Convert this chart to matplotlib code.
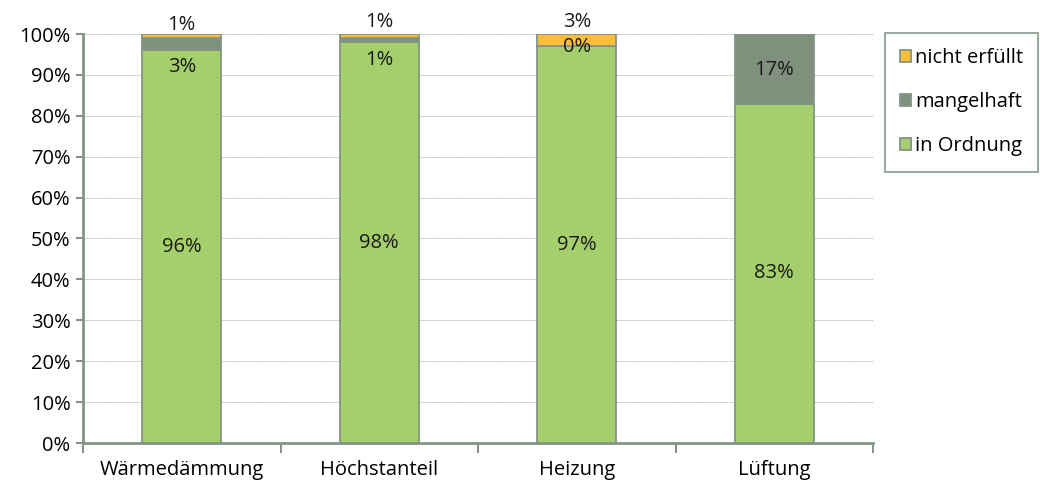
import matplotlib.pyplot as plt
import numpy as np

plt.rcParams['font.family'] = ['Open Sans', 'DejaVu Sans']

categories = ['Wärmedämmung', 'Höchstanteil', 'Heizung', 'Lüftung']
in_ordnung = [96, 98, 97, 83]
mangelhaft = [3, 1, 0, 17]
nicht_erfuellt = [1, 1, 3, 0]

# where the value labels sit (in % on the y axis); small segments get moved
lbl_mangel_y = [92.0, 93.7, 96.7, 91.3]
lbl_nicht_y = [102.3, 102.9, 102.9, None]

c_green = '#a5cf6c'
c_gray = '#7f917d'
c_orange = '#fbbd3c'
c_axis = '#849485'

fig = plt.figure(figsize=(10.4, 4.86), dpi=100)
ax = fig.add_axes([83 / 1040, 43 / 486, 790 / 1040, 409 / 486])

x = np.arange(len(categories))
w = 0.4
ok = np.array(in_ordnung)
mg = np.array(mangelhaft)
ne = np.array(nicht_erfuellt)

ax.bar(x, ok, w, color=c_green, edgecolor=c_axis, linewidth=1.3, label='in Ordnung', zorder=3)
ax.bar(x, mg, w, bottom=ok, color=c_gray, edgecolor=c_axis, linewidth=1.3, label='mangelhaft', zorder=3)
ax.bar(x, ne, w, bottom=ok + mg, color=c_orange, edgecolor=c_axis, linewidth=1.3, label='nicht erfüllt', zorder=3)

fs = 14.5
for i in range(len(categories)):
    ax.text(x[i], ok[i] / 2, f'{ok[i]}%', ha='center', va='center', fontsize=fs, color='#1a1a1a', zorder=5)
    ax.text(x[i], lbl_mangel_y[i], f'{mg[i]}%', ha='center', va='center', fontsize=fs, color='#1a1a1a', zorder=5)
    if lbl_nicht_y[i] is not None:
        ax.text(x[i], lbl_nicht_y[i], f'{ne[i]}%', ha='center', va='center', fontsize=fs, color='#1a1a1a',
                zorder=5, clip_on=False)

ax.set_xlim(-0.5, len(categories) - 0.5)
ax.set_ylim(0, 100)
ax.set_yticks(np.arange(0, 101, 10))
ax.set_yticklabels([f'{v}%' for v in range(0, 101, 10)])
ax.yaxis.grid(True, linestyle=(0, (1.2, 1)), color='#9aa89a', linewidth=0.6, zorder=0)

ax.set_xticks(x)
ax.set_xticklabels(categories)
ax.set_xticks(np.arange(-0.5, len(categories), 1), minor=True)
ax.tick_params(axis='x', which='major', length=0, pad=12, labelsize=fs)
ax.tick_params(axis='x', which='minor', length=7, width=1.5, color=c_axis, direction='out')
ax.tick_params(axis='y', length=5, width=1.5, color=c_axis, labelsize=fs, pad=4)

for s in ['top', 'right']:
    ax.spines[s].set_visible(False)
for s in ['left', 'bottom']:
    ax.spines[s].set_color(c_axis)
    ax.spines[s].set_linewidth(2)

h, l = ax.get_legend_handles_labels()
leg = fig.legend(h[::-1], l[::-1], loc='upper left', bbox_to_anchor=(885 / 1040, 1 - 33 / 486),
                 frameon=True, fancybox=False, fontsize=fs, handlelength=0.55, handleheight=0.55,
                 handletextpad=0.2, labelspacing=1.2, borderpad=0.75, borderaxespad=0)
leg.get_frame().set_edgecolor(c_axis)
leg.get_frame().set_linewidth(1.5)

fig.savefig('out.png', dpi=100)
